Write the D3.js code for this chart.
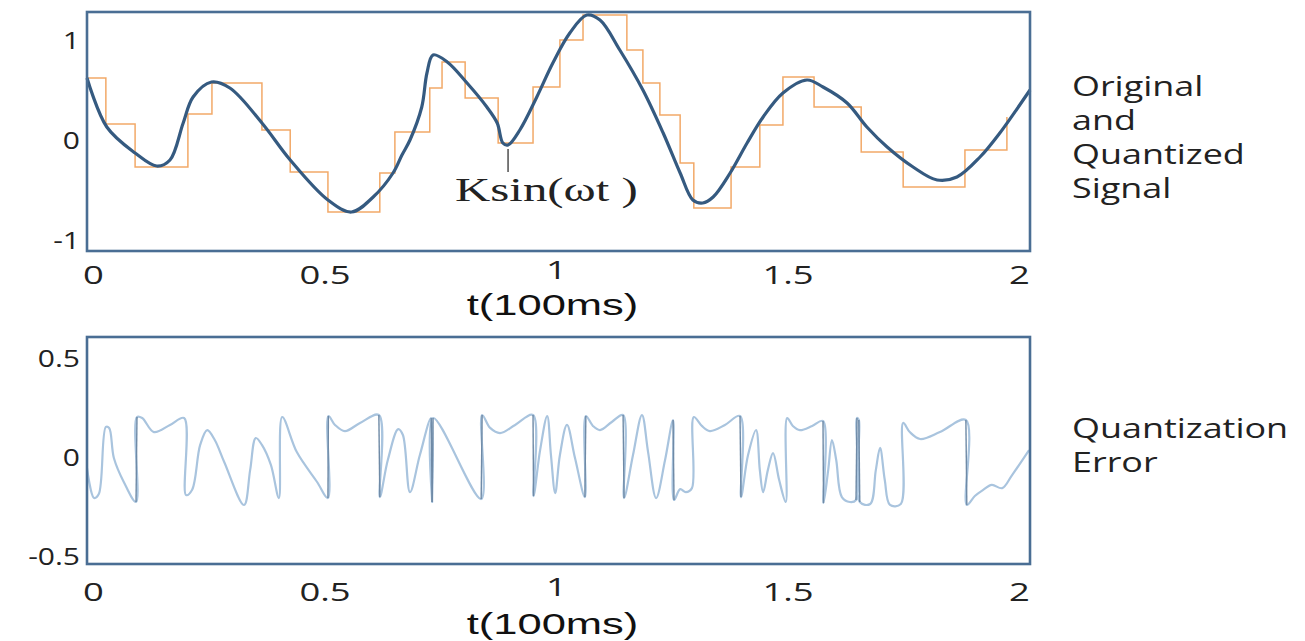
<!DOCTYPE html>
<html>
<head>
<meta charset="utf-8">
<script src="https://cdn.jsdelivr.net/npm/d3@7"></script>
<style>
  body { margin: 0; background: #fff; }
  svg { display: block; }
</style>
</head>
<body>
<svg id="chart" width="1305" height="641"></svg>
<script>
// ---------- data (t in units of 100ms)

// original signal K sin(wt)
const sigT = [0, 0.042, 0.102, 0.148, 0.176, 0.204, 0.225, 0.264, 0.303, 0.371, 0.431, 0.511, 0.561, 0.607,
  0.649, 0.668, 0.685, 0.710, 0.721, 0.734, 0.764, 0.806, 0.848, 0.870, 0.882, 0.893, 0.918, 0.954, 0.988,
  1.024, 1.060, 1.088, 1.130, 1.179, 1.222, 1.258, 1.285, 1.306, 1.328, 1.364, 1.400, 1.434, 1.476, 1.527,
  1.561, 1.612, 1.654, 1.697, 1.752, 1.803, 1.845, 1.894, 1.936, 2.0];
const sigV = [0.63, 0.14, -0.12, -0.25, -0.19, 0.18, 0.44, 0.59, 0.53, 0.18, -0.19, -0.59, -0.71, -0.56,
  -0.32, -0.14, 0.01, 0.34, 0.68, 0.86, 0.79, 0.58, 0.34, 0.18, -0.02, -0.04, 0.11, 0.44, 0.78,
  1.08, 1.26, 1.21, 0.91, 0.51, 0.08, -0.32, -0.59, -0.62, -0.56, -0.32, -0.02, 0.24, 0.48, 0.61,
  0.54, 0.38, 0.14, -0.06, -0.26, -0.39, -0.36, -0.16, 0.08, 0.51];

// quantized (held) signal: level holdV[i] starts at holdT[i]
const holdT = [0, 0.040, 0.102, 0.214, 0.265, 0.371, 0.431, 0.511, 0.621, 0.653, 0.727, 0.753, 0.802,
  0.872, 0.946, 1.003, 1.052, 1.145, 1.179, 1.215, 1.258, 1.287, 1.366, 1.427, 1.476, 1.542, 1.642,
  1.731, 1.862, 1.951];
const holdV = [0.63, 0.17, -0.26, 0.27, 0.58, 0.11, -0.31, -0.71, -0.32, 0.09, 0.53, 0.79, 0.43,
  -0.02, 0.54, 1.01, 1.26, 0.91, 0.58, 0.26, -0.22, -0.67, -0.26, 0.16, 0.64, 0.34, -0.11,
  -0.46, -0.09, 0.24];

// quantization error
const errT = [0, 0.015, 0.025, 0.040, 0.047, 0.057, 0.078, 0.104, 0.106, 0.117, 0.142, 0.176, 0.206, 0.210,
  0.223, 0.240, 0.255, 0.271, 0.291, 0.333, 0.346, 0.358, 0.371, 0.390, 0.407, 0.414, 0.445, 0.488,
  0.511, 0.512, 0.526, 0.547, 0.579, 0.619, 0.621, 0.638, 0.660, 0.670, 0.685, 0.706, 0.730, 0.732,
  0.734, 0.836, 0.838, 0.855, 0.876, 0.908, 0.946, 0.947, 0.961, 0.976, 0.984, 0.993, 1.003, 1.018,
  1.035, 1.056, 1.058, 1.073, 1.088, 1.113, 1.137, 1.139, 1.158, 1.177, 1.190, 1.207, 1.226, 1.243,
  1.245, 1.258, 1.270, 1.283, 1.287, 1.304, 1.321, 1.353, 1.385, 1.387, 1.402, 1.419, 1.427, 1.434,
  1.444, 1.455, 1.468, 1.482, 1.485, 1.497, 1.512, 1.538, 1.561, 1.562, 1.572, 1.580, 1.589, 1.601,
  1.618, 1.631, 1.633, 1.637, 1.639, 1.661, 1.673, 1.682, 1.692, 1.703, 1.726, 1.731, 1.745, 1.767,
  1.809, 1.864, 1.866, 1.883, 1.900, 1.919, 1.941, 1.962, 1.998];
const errV = [-0.051, -0.202, -0.182, 0.157, 0.152, 0, -0.121, -0.222, 0.207, 0.202, 0.131, 0.167, 0.202, -0.187,
  -0.160, 0.066, 0.141, 0.091, -0.020, -0.237, -0.061, 0.101, 0.066, -0.035, -0.202, 0.207, 0.030, -0.121,
  -0.202, 0.212, 0.167, 0.136, 0.177, 0.217, -0.197, -0.010, 0.146, 0.116, -0.172, 0.015, 0.202, -0.222,
  0.202, -0.207, 0.217, 0.152, 0.126, 0.167, 0.217, -0.192, 0.040, 0.212, 0.015, -0.177, 0.015, 0.167,
  0, -0.197, 0.212, 0.162, 0.141, 0.182, 0.217, -0.202, 0.015, 0.217, 0.030, -0.202, -0.010, 0.192,
  -0.212, -0.157, -0.172, -0.152, 0.207, 0.162, 0.136, 0.167, 0.212, -0.197, 0.015, 0.141, -0.061, -0.172,
  -0.061, 0.025, -0.111, -0.222, 0.202, 0.162, 0.141, 0.162, 0.187, -0.227, -0.061, 0.091, -0.010, -0.197,
  -0.222, -0.212, 0.202, 0.192, -0.222, -0.232, -0.061, 0.051, -0.111, -0.237, -0.232, 0.177, 0.131, 0.096,
  0.131, 0.192, -0.237, -0.192, -0.162, -0.136, -0.152, -0.086, 0.040];

const xTicks = [0, 0.5, 1, 1.5, 2];
const topYTicks = [-1, 0, 1];
const botYTicks = [-0.5, 0, 0.5];
const xTitle = 't(100ms)';
const topLabel = ['Original', 'and', 'Quantized', 'Signal'];
const botLabel = ['Quantization', 'Error'];
const annotText = 'Ksin(\u03C9t )';
const annotT = 0.893, annotV = [-0.08, -0.31];

// ---------- layout

const svg = d3.select('#chart');
const left = 87, right = 1030;
const topBox = {y0: 12, y1: 251};
const botBox = {y0: 337, y1: 564};

const sans = "'Open Sans', sans-serif";
const frameColor = '#4a6e94';

const x = d3.scaleLinear().domain([0, 2]).range([left, right]);
// the tick labels sit a little inside the frame in the original
const xLab = d3.scaleLinear().domain([0, 2]).range([93, 1019]);
const yTop = d3.scaleLinear().domain([-1.1, 1.29]).range([topBox.y1, topBox.y0]);
const yBot = d3.scaleLinear().domain([-0.535, 0.611]).range([botBox.y1, botBox.y0]);

// the source picture is squeezed sideways: widen texts by a factor
function stretch(sel, k) {
  sel.each(function() {
    const w = this.getComputedTextLength();
    d3.select(this).attr('textLength', w * k).attr('lengthAdjust', 'spacingAndGlyphs');
  });
}

// ---------- top panel

const hold = holdT.map((t, i) => [t, holdV[i]]);
svg.append('path')
    .datum(hold)
    .attr('fill', 'none')
    .attr('stroke', '#f2a968')
    .attr('stroke-width', 1.5)
    .attr('d', d3.line().x(d => x(d[0])).y(d => yTop(d[1])).curve(d3.curveStepAfter));

const sig = sigT.map((t, i) => [t, sigV[i]]);
svg.append('path')
    .datum(sig)
    .attr('fill', 'none')
    .attr('stroke', '#355a80')
    .attr('stroke-width', 3.2)
    .attr('d', d3.line().x(d => x(d[0])).y(d => yTop(d[1])).curve(d3.curveCatmullRom.alpha(0.5)));

// ---------- bottom panel

const err = errT.map((t, i) => [t, errV[i]]);
svg.append('path')
    .datum(err)
    .attr('fill', 'none')
    .attr('stroke', '#a9c4de')
    .attr('stroke-width', 2.2)
    .attr('d', d3.line().x(d => x(d[0])).y(d => yBot(d[1])).curve(d3.curveCatmullRom.alpha(0.5)));

// the jumps look darker
const jumps = err.slice(1).map((d, i) => [err[i], d]).filter(p => p[1][0] - p[0][0] <= 0.003);
svg.append('g').selectAll('line')
  .data(jumps)
  .join('line')
    .attr('x1', d => x(d[0][0])).attr('y1', d => yBot(d[0][1]))
    .attr('x2', d => x(d[1][0])).attr('y2', d => yBot(d[1][1]))
    .attr('stroke', '#6f8aa6')
    .attr('stroke-width', 1.4);

// ---------- frames

[topBox, botBox].forEach(b => {
  svg.append('rect')
      .attr('x', left).attr('y', b.y0)
      .attr('width', right - left).attr('height', b.y1 - b.y0)
      .attr('fill', 'none')
      .attr('stroke', frameColor)
      .attr('stroke-width', 2.6);
});

// ---------- axes

function xAxis(yPos) {
  const g = svg.append('g')
      .attr('transform', `translate(0,${yPos})`)
      .call(d3.axisBottom(xLab).tickValues(xTicks).tickSize(0).tickFormat(d => String(d)));
  g.select('.domain').remove();
  g.selectAll('text')
      .attr('y', d => d === 1 ? -5 : 0).attr('dy', null)
      .attr('font-family', sans).attr('font-size', 26).attr('fill', '#222');
  stretch(g.selectAll('text'), 1.4);
}
function yAxis(scale, ticks) {
  const g = svg.append('g')
      .attr('transform', `translate(80,0)`)
      .call(d3.axisLeft(scale).tickValues(ticks).tickSize(0).tickPadding(0).tickFormat(d => String(d)));
  g.select('.domain').remove();
  g.selectAll('text')
      .attr('font-family', sans).attr('font-size', 24).attr('fill', '#222');
  stretch(g.selectAll('text'), 1.25);
}

xAxis(284);
xAxis(601);
yAxis(yTop, topYTicks);
yAxis(yBot, botYTicks);

[315, 634].forEach(yPos => {
  const t = svg.append('text')
      .attr('x', x(1) - 6).attr('y', yPos)
      .attr('text-anchor', 'middle')
      .attr('font-family', "'Liberation Sans', Arial, sans-serif")
      .attr('font-size', 30)
      .attr('fill', '#111')
      .text(xTitle);
  stretch(t, 1.45);
});

// ---------- annotation

svg.append('line')
    .attr('x1', x(annotT)).attr('x2', x(annotT))
    .attr('y1', yTop(annotV[0])).attr('y2', yTop(annotV[1]))
    .attr('stroke', '#222').attr('stroke-width', 1.2);
const ann = svg.append('text')
    .attr('x', x(annotT) - 53).attr('y', yTop(annotV[1]) + 29)
    .attr('font-family', "'Liberation Serif', 'Times New Roman', serif")
    .attr('font-size', 33)
    .attr('fill', '#222')
    .text(annotText);
stretch(ann, 1.48);

// ---------- side labels

function sideLabel(lines, y0) {
  const g = svg.append('g');
  g.selectAll('text')
    .data(lines)
    .join('text')
      .attr('x', 1072)
      .attr('y', (d, i) => y0 + i * 34)
      .attr('font-family', sans)
      .attr('font-size', 27)
      .attr('fill', '#222')
      .text(d => d);
  stretch(g.selectAll('text'), 1.33);
}
sideLabel(topLabel, 96);
sideLabel(botLabel, 438);
</script>
</body>
</html>
